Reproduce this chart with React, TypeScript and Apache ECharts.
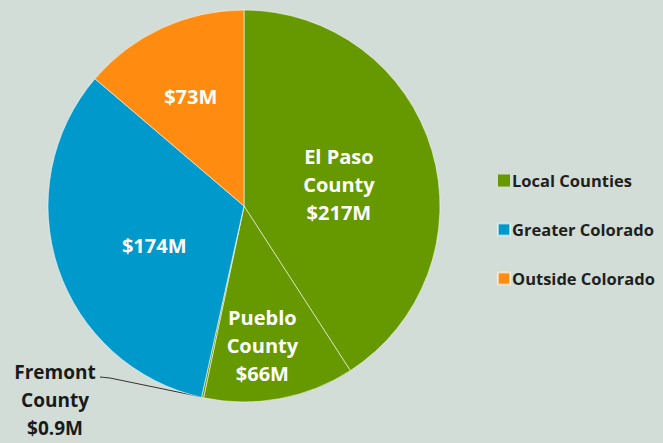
import React, { useEffect, useRef } from "react";
import * as echarts from "echarts";

const sliceNames = ["El Paso County", "Pueblo County", "Fremont County", "Greater Colorado", "Outside Colorado"];
const sliceLabels = ["El Paso\nCounty", "Pueblo\nCounty", "Fremont\nCounty", "", ""];
const sliceValues = [217, 66, 0.9, 174, 73];
const sliceColors = ["#669900", "#669900", "#669900", "#0099cc", "#ff8c10"];
const legendNames = ["Local Counties", "Greater Colorado", "Outside Colorado"];
const legendColors = ["#669900", "#0099cc", "#ff8c10"];
const labelShift = [
  [-2, 7],
  [0, 40],
  [0, 0],
  [6, 7],
  [-11, -18],
];

export default function App() {
  const ref = useRef<HTMLDivElement>(null);
  useEffect(() => {
    document.body.style.margin = "0";
    document.body.style.background = "#d1ddd6";
    const chart = echarts.init(ref.current!, null, { renderer: "svg" });
    const font = "'Open Sans', sans-serif";
    chart.setOption({
      animation: false,
      backgroundColor: "#d1ddd6",
      legend: {
        data: legendNames,
        orient: "vertical",
        left: 492,
        top: 167,
        itemWidth: 12,
        itemHeight: 12,
        itemGap: 32,
        icon: "rect",
        selectedMode: false,
        textStyle: { fontFamily: font, fontWeight: "bold", fontSize: 16.5, color: "#1f1f1f", padding: [0, 0, 0, -3] },
      },
      series: [
        {
          type: "pie",
          center: [244, 206],
          radius: [0, 196],
          startAngle: 90,
          clockwise: true,
          avoidLabelOverlap: false,
          itemStyle: { borderColor: "rgba(255,255,255,0.55)", borderWidth: 1 },
          label: {
            show: true,
            position: "inside",
            fontFamily: font,
            fontWeight: "bold",
            fontSize: 20,
            lineHeight: 28,
            color: "#ffffff",
            formatter: (p: any) => {
              const pre = sliceLabels[p.dataIndex];
              return (pre ? pre + "\n" : "") + "$" + p.value + "M";
            },
          },
          labelLayout: (params: any) => {
            const i = params.dataIndex;
            if (i === 2) {
              return {
                x: 55,
                y: 400,
                align: "center",
                verticalAlign: "middle",
                labelLinePoints: [
                  [202, 397],
                  [110, 378],
                  [100, 377],
                ],
              };
            }
            return { dx: labelShift[i][0], dy: labelShift[i][1] };
          },
          data: sliceValues.map((v, i) => ({
            name: sliceNames[i],
            value: v,
            itemStyle: { color: sliceColors[i] },
            ...(i === 2
              ? {
                  label: { position: "outside", color: "#1a1a1a", fontSize: 19 },
                  labelLine: { show: true, length: 10, length2: 10, lineStyle: { color: "#333", width: 1 } },
                }
              : {}),
          })),
          emphasis: { disabled: true },
        },
        {
          type: "pie",
          center: [244, 206],
          radius: [0, 0],
          silent: true,
          label: { show: false },
          labelLine: { show: false },
          data: legendNames.map((n, i) => ({ name: n, value: 1, itemStyle: { color: legendColors[i] } })),
        },
      ],
    });
    return () => chart.dispose();
  }, []);
  return <div ref={ref} style={{ width: 663, height: 443 }} />;
}
